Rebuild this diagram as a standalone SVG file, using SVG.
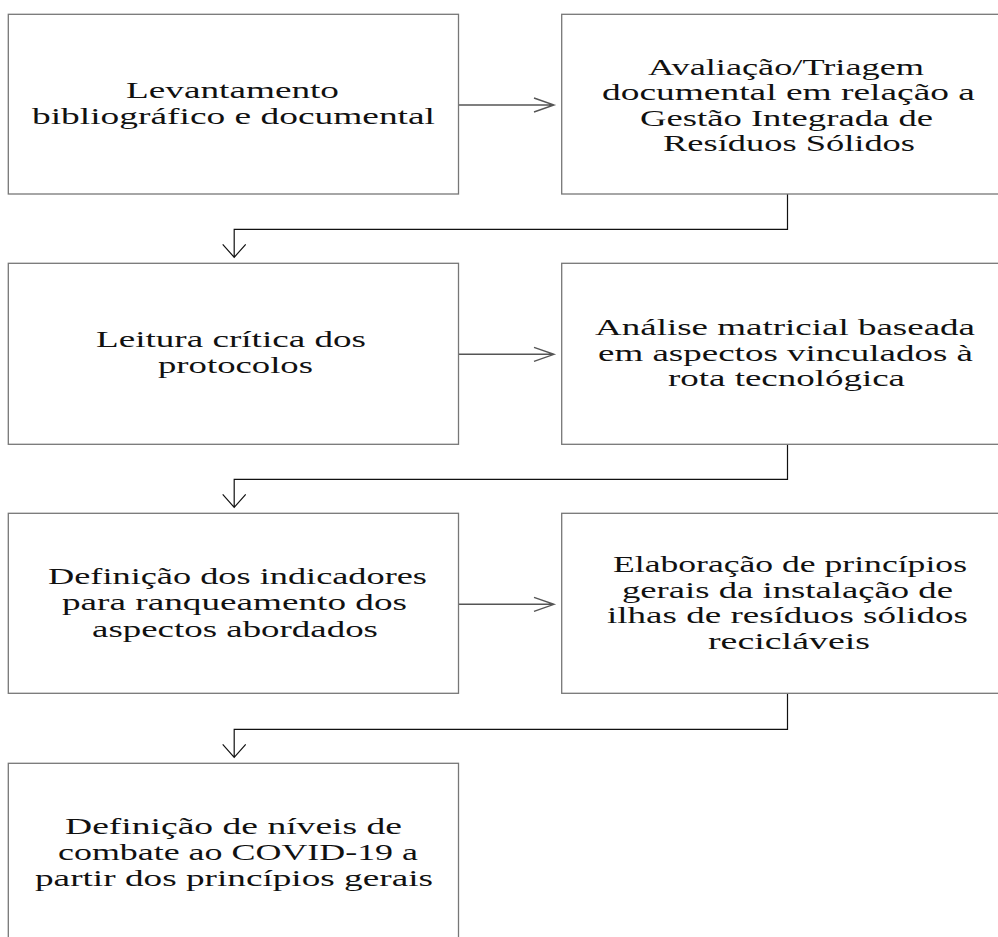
<svg xmlns="http://www.w3.org/2000/svg" width="998" height="937" viewBox="0 0 998 937">
<style>
.box{fill:#fff;stroke:#777;stroke-width:1.3}
.t{font-family:"Liberation Serif","Times New Roman",serif;font-size:23px;fill:#111}
.h{fill:none;stroke:#555;stroke-width:1.4}
.e{fill:none;stroke:#111;stroke-width:1.2}
</style>
<rect width="998" height="937" fill="#fff"/>
<g id="connectors">
<path class="h" d="M458.5 105H554M534 98L554 105L534 112"/>
<path class="h" d="M458.5 354.3H554M534 347.3L554 354.3L534 361.3"/>
<path class="h" d="M458.5 604.3H554M534 597.3L554 604.3L534 611.3"/>
<path class="e" d="M787.5 194V229.3H234.2V257.3M222.7 244.3L234.2 257.3L245.7 244.3"/>
<path class="e" d="M787.5 444.3V479.3H234.2V507.3M222.7 494.3L234.2 507.3L245.7 494.3"/>
<path class="e" d="M787.5 693.3V729.3H234.2V757.3M222.7 744.3L234.2 757.3L245.7 744.3"/>
</g>
<g id="n1">
<rect class="box" x="8.3" y="14.3" width="450.2" height="179.7"/>
<text class="t" x="126" y="98" textLength="213" lengthAdjust="spacingAndGlyphs">Levantamento</text>
<text class="t" x="32" y="124" textLength="403" lengthAdjust="spacingAndGlyphs">bibliográfico e documental</text>
</g>
<g id="n2">
<rect class="box" x="561.7" y="14.3" width="460" height="179.7"/>
<text class="t" x="648" y="74.5" textLength="276" lengthAdjust="spacingAndGlyphs">Avaliação/Triagem</text>
<text class="t" x="602" y="100" textLength="373" lengthAdjust="spacingAndGlyphs">documental em relação a</text>
<text class="t" x="640" y="125.5" textLength="293" lengthAdjust="spacingAndGlyphs">Gestão Integrada de</text>
<text class="t" x="663" y="151" textLength="252" lengthAdjust="spacingAndGlyphs">Resíduos Sólidos</text>
</g>
<g id="n3">
<rect class="box" x="8.3" y="263.3" width="450.2" height="181"/>
<text class="t" x="96" y="347" textLength="270" lengthAdjust="spacingAndGlyphs">Leitura crítica dos</text>
<text class="t" x="158" y="373" textLength="155" lengthAdjust="spacingAndGlyphs">protocolos</text>
</g>
<g id="n4">
<rect class="box" x="561.7" y="263.3" width="460" height="181"/>
<text class="t" x="595" y="335" textLength="380" lengthAdjust="spacingAndGlyphs">Análise matricial baseada</text>
<text class="t" x="598" y="360.5" textLength="375" lengthAdjust="spacingAndGlyphs">em aspectos vinculados à</text>
<text class="t" x="668" y="386" textLength="237" lengthAdjust="spacingAndGlyphs">rota tecnológica</text>
</g>
<g id="n5">
<rect class="box" x="8.3" y="513.3" width="450.2" height="180"/>
<text class="t" x="48" y="583.5" textLength="379" lengthAdjust="spacingAndGlyphs">Definição dos indicadores</text>
<text class="t" x="62" y="610" textLength="345" lengthAdjust="spacingAndGlyphs">para ranqueamento dos</text>
<text class="t" x="92" y="636.5" textLength="286" lengthAdjust="spacingAndGlyphs">aspectos abordados</text>
</g>
<g id="n6">
<rect class="box" x="561.7" y="513.3" width="460" height="180"/>
<text class="t" x="613" y="572" textLength="354" lengthAdjust="spacingAndGlyphs">Elaboração de princípios</text>
<text class="t" x="622" y="597.5" textLength="331" lengthAdjust="spacingAndGlyphs">gerais da instalação de</text>
<text class="t" x="607" y="623" textLength="361" lengthAdjust="spacingAndGlyphs">ilhas de resíduos sólidos</text>
<text class="t" x="708" y="648.5" textLength="162" lengthAdjust="spacingAndGlyphs">recicláveis</text>
</g>
<g id="n7">
<rect class="box" x="8.3" y="763.3" width="450.2" height="200"/>
<text class="t" x="65" y="833.5" textLength="337" lengthAdjust="spacingAndGlyphs">Definição de níveis de</text>
<text class="t" x="58" y="859.5" textLength="360" lengthAdjust="spacingAndGlyphs">combate ao COVID-19 a</text>
<text class="t" x="35" y="885.5" textLength="398" lengthAdjust="spacingAndGlyphs">partir dos princípios gerais</text>
</g>
</svg>
